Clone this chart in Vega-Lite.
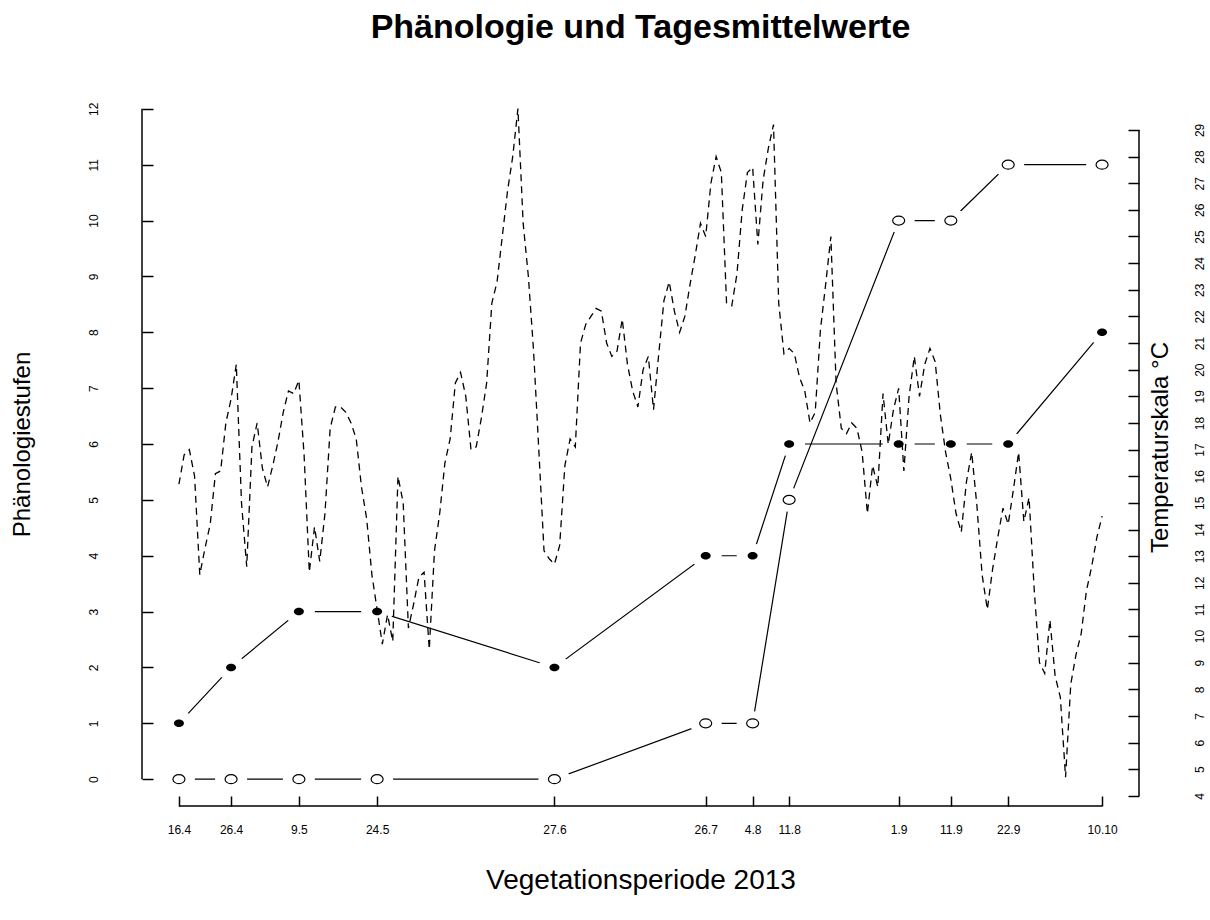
{
  "$schema": "https://vega.github.io/schema/vega-lite/v6.json",
  "autosize": {"type": "none"},
  "padding": {"left": 142, "top": 82, "right": 71, "bottom": 114},
  "width": 997,
  "height": 724,
  "background": "white",
  "config": {
    "view": {"stroke": null},
    "font": "Liberation Sans",
    "axis": {
      "grid": false, "domain": false,
      "labelFont": "Liberation Sans", "titleFont": "Liberation Sans",
      "labelColor": "black", "titleColor": "black", "tickColor": "black",
      "tickWidth": 1.5, "titleFontWeight": "normal"
    }
  },
  "title": {
    "text": "Phänologie und Tagesmittelwerte",
    "font": "Liberation Sans", "fontSize": 34, "fontWeight": "bold", "color": "black",
    "anchor": "middle", "frame": "group", "offset": 37
  },
  "datasets": {
    "pheno": [
      {"tag": "2013-04-16", "gefuellt": 1, "offen": 0},
      {"tag": "2013-04-26", "gefuellt": 2, "offen": 0},
      {"tag": "2013-05-09", "gefuellt": 3, "offen": 0},
      {"tag": "2013-05-24", "gefuellt": 3, "offen": 0},
      {"tag": "2013-06-27", "gefuellt": 2, "offen": 0},
      {"tag": "2013-07-26", "gefuellt": 4, "offen": 1},
      {"tag": "2013-08-04", "gefuellt": 4, "offen": 1},
      {"tag": "2013-08-11", "gefuellt": 6, "offen": 5},
      {"tag": "2013-09-01", "gefuellt": 6, "offen": 10},
      {"tag": "2013-09-11", "gefuellt": 6, "offen": 10},
      {"tag": "2013-09-22", "gefuellt": 6, "offen": 11},
      {"tag": "2013-10-10", "gefuellt": 8, "offen": 11}
    ],
    "temp": [
      {"tag": "2013-04-16", "t": 15.7}, {"tag": "2013-04-17", "t": 16.8}, {"tag": "2013-04-18", "t": 17.0}, {"tag": "2013-04-19", "t": 16.0}, {"tag": "2013-04-20", "t": 12.3},
      {"tag": "2013-04-21", "t": 13.3}, {"tag": "2013-04-22", "t": 14.2}, {"tag": "2013-04-23", "t": 16.1}, {"tag": "2013-04-24", "t": 16.2}, {"tag": "2013-04-25", "t": 18.0},
      {"tag": "2013-04-26", "t": 18.9}, {"tag": "2013-04-27", "t": 20.2}, {"tag": "2013-04-28", "t": 15.0}, {"tag": "2013-04-29", "t": 12.6}, {"tag": "2013-04-30", "t": 17.1},
      {"tag": "2013-05-01", "t": 18.0}, {"tag": "2013-05-02", "t": 16.3}, {"tag": "2013-05-03", "t": 15.6}, {"tag": "2013-05-04", "t": 16.4}, {"tag": "2013-05-05", "t": 17.3},
      {"tag": "2013-05-06", "t": 18.4}, {"tag": "2013-05-07", "t": 19.2}, {"tag": "2013-05-08", "t": 19.1}, {"tag": "2013-05-09", "t": 19.6}, {"tag": "2013-05-10", "t": 16.8},
      {"tag": "2013-05-11", "t": 12.4}, {"tag": "2013-05-12", "t": 14.1}, {"tag": "2013-05-13", "t": 12.8}, {"tag": "2013-05-14", "t": 14.6}, {"tag": "2013-05-15", "t": 17.8},
      {"tag": "2013-05-16", "t": 18.6}, {"tag": "2013-05-17", "t": 18.6}, {"tag": "2013-05-18", "t": 18.4}, {"tag": "2013-05-19", "t": 18.0}, {"tag": "2013-05-20", "t": 17.4},
      {"tag": "2013-05-21", "t": 15.6}, {"tag": "2013-05-22", "t": 14.4}, {"tag": "2013-05-23", "t": 12.3}, {"tag": "2013-05-24", "t": 11.0}, {"tag": "2013-05-25", "t": 9.7},
      {"tag": "2013-05-26", "t": 10.8}, {"tag": "2013-05-27", "t": 9.8}, {"tag": "2013-05-28", "t": 16.0}, {"tag": "2013-05-29", "t": 15.0}, {"tag": "2013-05-30", "t": 10.3},
      {"tag": "2013-05-31", "t": 11.2},
      {"tag": "2013-06-01", "t": 12.2}, {"tag": "2013-06-02", "t": 12.4}, {"tag": "2013-06-03", "t": 9.5}, {"tag": "2013-06-04", "t": 13.2}, {"tag": "2013-06-05", "t": 14.6},
      {"tag": "2013-06-06", "t": 16.5}, {"tag": "2013-06-07", "t": 17.4}, {"tag": "2013-06-08", "t": 19.5}, {"tag": "2013-06-09", "t": 19.9}, {"tag": "2013-06-10", "t": 19.0},
      {"tag": "2013-06-11", "t": 17.0}, {"tag": "2013-06-12", "t": 17.1}, {"tag": "2013-06-13", "t": 18.2}, {"tag": "2013-06-14", "t": 19.5}, {"tag": "2013-06-15", "t": 22.5},
      {"tag": "2013-06-16", "t": 23.3}, {"tag": "2013-06-17", "t": 25.0}, {"tag": "2013-06-18", "t": 26.7}, {"tag": "2013-06-19", "t": 28.0}, {"tag": "2013-06-20", "t": 29.8},
      {"tag": "2013-06-21", "t": 25.5}, {"tag": "2013-06-22", "t": 23.5}, {"tag": "2013-06-23", "t": 20.7}, {"tag": "2013-06-24", "t": 17.0}, {"tag": "2013-06-25", "t": 13.2},
      {"tag": "2013-06-26", "t": 12.9}, {"tag": "2013-06-27", "t": 12.7}, {"tag": "2013-06-28", "t": 13.4}, {"tag": "2013-06-29", "t": 16.4}, {"tag": "2013-06-30", "t": 17.4},
      {"tag": "2013-07-01", "t": 17.1}, {"tag": "2013-07-02", "t": 21.0}, {"tag": "2013-07-03", "t": 21.7}, {"tag": "2013-07-04", "t": 22.0}, {"tag": "2013-07-05", "t": 22.3},
      {"tag": "2013-07-06", "t": 22.2}, {"tag": "2013-07-07", "t": 21.0}, {"tag": "2013-07-08", "t": 20.5}, {"tag": "2013-07-09", "t": 20.7}, {"tag": "2013-07-10", "t": 21.9},
      {"tag": "2013-07-11", "t": 20.2}, {"tag": "2013-07-12", "t": 19.2}, {"tag": "2013-07-13", "t": 18.6}, {"tag": "2013-07-14", "t": 20.0}, {"tag": "2013-07-15", "t": 20.5},
      {"tag": "2013-07-16", "t": 18.5}, {"tag": "2013-07-17", "t": 20.6}, {"tag": "2013-07-18", "t": 22.6}, {"tag": "2013-07-19", "t": 23.3}, {"tag": "2013-07-20", "t": 22.2},
      {"tag": "2013-07-21", "t": 21.4}, {"tag": "2013-07-22", "t": 22.0}, {"tag": "2013-07-23", "t": 23.2}, {"tag": "2013-07-24", "t": 24.3}, {"tag": "2013-07-25", "t": 25.5},
      {"tag": "2013-07-26", "t": 25.0}, {"tag": "2013-07-27", "t": 27.0}, {"tag": "2013-07-28", "t": 28.0}, {"tag": "2013-07-29", "t": 27.4}, {"tag": "2013-07-30", "t": 22.5},
      {"tag": "2013-07-31", "t": 22.4},
      {"tag": "2013-08-01", "t": 23.6}, {"tag": "2013-08-02", "t": 26.0}, {"tag": "2013-08-03", "t": 27.4}, {"tag": "2013-08-04", "t": 27.6}, {"tag": "2013-08-05", "t": 24.7},
      {"tag": "2013-08-06", "t": 27.1}, {"tag": "2013-08-07", "t": 28.3}, {"tag": "2013-08-08", "t": 29.2}, {"tag": "2013-08-09", "t": 22.5}, {"tag": "2013-08-10", "t": 20.6},
      {"tag": "2013-08-11", "t": 20.8}, {"tag": "2013-08-12", "t": 20.6}, {"tag": "2013-08-13", "t": 19.7}, {"tag": "2013-08-14", "t": 19.2}, {"tag": "2013-08-15", "t": 18.0},
      {"tag": "2013-08-16", "t": 18.4}, {"tag": "2013-08-17", "t": 21.5}, {"tag": "2013-08-18", "t": 23.2}, {"tag": "2013-08-19", "t": 25.0}, {"tag": "2013-08-20", "t": 19.5},
      {"tag": "2013-08-21", "t": 17.8}, {"tag": "2013-08-22", "t": 17.6}, {"tag": "2013-08-23", "t": 18.0}, {"tag": "2013-08-24", "t": 17.8}, {"tag": "2013-08-25", "t": 16.9},
      {"tag": "2013-08-26", "t": 14.6}, {"tag": "2013-08-27", "t": 16.4}, {"tag": "2013-08-28", "t": 15.6}, {"tag": "2013-08-29", "t": 19.1}, {"tag": "2013-08-30", "t": 17.2},
      {"tag": "2013-08-31", "t": 18.5},
      {"tag": "2013-09-01", "t": 19.3}, {"tag": "2013-09-02", "t": 16.2}, {"tag": "2013-09-03", "t": 19.0}, {"tag": "2013-09-04", "t": 20.5}, {"tag": "2013-09-05", "t": 19.0},
      {"tag": "2013-09-06", "t": 20.2}, {"tag": "2013-09-07", "t": 20.8}, {"tag": "2013-09-08", "t": 20.3}, {"tag": "2013-09-09", "t": 18.3}, {"tag": "2013-09-10", "t": 16.9},
      {"tag": "2013-09-11", "t": 15.9}, {"tag": "2013-09-12", "t": 14.6}, {"tag": "2013-09-13", "t": 13.9}, {"tag": "2013-09-14", "t": 15.8}, {"tag": "2013-09-15", "t": 16.9},
      {"tag": "2013-09-16", "t": 14.9}, {"tag": "2013-09-17", "t": 12.3}, {"tag": "2013-09-18", "t": 11.0}, {"tag": "2013-09-19", "t": 12.5}, {"tag": "2013-09-20", "t": 13.7},
      {"tag": "2013-09-21", "t": 14.8}, {"tag": "2013-09-22", "t": 14.2}, {"tag": "2013-09-23", "t": 15.5}, {"tag": "2013-09-24", "t": 16.9}, {"tag": "2013-09-25", "t": 14.3},
      {"tag": "2013-09-26", "t": 15.2}, {"tag": "2013-09-27", "t": 11.7}, {"tag": "2013-09-28", "t": 9.0}, {"tag": "2013-09-29", "t": 8.6}, {"tag": "2013-09-30", "t": 10.6},
      {"tag": "2013-10-01", "t": 8.5}, {"tag": "2013-10-02", "t": 7.7}, {"tag": "2013-10-03", "t": 4.7}, {"tag": "2013-10-04", "t": 8.2}, {"tag": "2013-10-05", "t": 9.3},
      {"tag": "2013-10-06", "t": 10.1}, {"tag": "2013-10-07", "t": 11.7}, {"tag": "2013-10-08", "t": 12.6}, {"tag": "2013-10-09", "t": 13.7}, {"tag": "2013-10-10", "t": 14.5}
    ]
  },
  "layer": [
    {
      "data": {"name": "pheno"},
      "layer": [
        {
          "mark": {"type": "line", "color": "black", "strokeWidth": 1.2},
          "encoding": {
            "x": {
              "field": "tag", "type": "temporal",
              "scale": {"type": "utc", "nice": false, "domain": [{"year": 2013, "month": 4, "date": 8, "hours": 22, "minutes": 5, "utc": true}, {"year": 2013, "month": 10, "date": 17, "hours": 1, "minutes": 55, "utc": true}]},
              "axis": {
                "values": [
                  {"year": 2013, "month": 4, "date": 16, "utc": true}, {"year": 2013, "month": 4, "date": 26, "utc": true},
                  {"year": 2013, "month": 5, "date": 9, "utc": true}, {"year": 2013, "month": 5, "date": 24, "utc": true},
                  {"year": 2013, "month": 6, "date": 27, "utc": true}, {"year": 2013, "month": 7, "date": 26, "utc": true},
                  {"year": 2013, "month": 8, "date": 4, "utc": true}, {"year": 2013, "month": 8, "date": 11, "utc": true},
                  {"year": 2013, "month": 9, "date": 1, "utc": true}, {"year": 2013, "month": 9, "date": 11, "utc": true},
                  {"year": 2013, "month": 9, "date": 22, "utc": true}, {"year": 2013, "month": 10, "date": 10, "utc": true}
                ],
                "format": "%-d.%-m",
                "title": "Vegetationsperiode 2013",
                "titleFontSize": 28, "titleY": 74, "titleBaseline": "middle",
                "labelFontSize": 12, "labelPadding": 33, "labelBaseline": "middle", "labelAlign": "center",
                "labelFlush": false, "labelOverlap": false, "tickSize": -10
              }
            },
            "y": {
              "field": "gefuellt", "type": "quantitative",
              "scale": {"domain": [-0.48, 12.48], "nice": false, "zero": false},
              "axis": {
                "values": [0, 1, 2, 3, 4, 5, 6, 7, 8, 9, 10, 11, 12], "format": "d",
                "title": "Phänologiestufen", "titleFontSize": 24,
                "titleAngle": 270, "titleX": -120, "titleY": 362, "titleAlign": "center", "titleBaseline": "middle",
                "labelFontSize": 12, "labelAngle": 270, "labelAlign": "center", "labelBaseline": "middle",
                "labelPadding": 60, "tickSize": -11, "labelOverlap": false, "labelFlush": false
              }
            }
          }
        },
        {
          "data": {"values": [{}]},
          "mark": {"type": "rule", "color": "black", "strokeWidth": 1.5},
          "encoding": {
            "x": {"datum": {"year": 2013, "month": 4, "date": 8, "hours": 22, "minutes": 5, "utc": true}, "type": "temporal"},
            "y": {"datum": 0, "type": "quantitative"},
            "y2": {"datum": 12}
          }
        },
        {
          "data": {"values": [{}]},
          "mark": {"type": "rule", "color": "black", "strokeWidth": 1.5},
          "encoding": {
            "x": {"datum": {"year": 2013, "month": 4, "date": 16, "utc": true}, "type": "temporal"},
            "x2": {"datum": {"year": 2013, "month": 10, "date": 10, "utc": true}},
            "y": {"datum": -0.48, "type": "quantitative"}
          }
        },
        {
          "mark": {"type": "line", "color": "black", "strokeWidth": 1.2},
          "encoding": {
            "x": {"field": "tag", "type": "temporal"},
            "y": {"field": "offen", "type": "quantitative"}
          }
        },
        {
          "mark": {"type": "point", "shape": "M -1 0 A 1 0.75 0 1 0 1 0 A 1 0.75 0 1 0 -1 0 Z", "filled": true, "color": "white", "opacity": 1, "size": 1024},
          "encoding": {
            "x": {"field": "tag", "type": "temporal"},
            "y": {"field": "gefuellt", "type": "quantitative"}
          }
        },
        {
          "mark": {"type": "point", "shape": "M -1 0 A 1 0.75 0 1 0 1 0 A 1 0.75 0 1 0 -1 0 Z", "filled": true, "color": "white", "opacity": 1, "size": 1024},
          "encoding": {
            "x": {"field": "tag", "type": "temporal"},
            "y": {"field": "offen", "type": "quantitative"}
          }
        },
        {
          "mark": {"type": "point", "shape": "M -1 0 A 1 0.75 0 1 0 1 0 A 1 0.75 0 1 0 -1 0 Z", "filled": true, "color": "black", "opacity": 1, "size": 100},
          "encoding": {
            "x": {"field": "tag", "type": "temporal"},
            "y": {"field": "gefuellt", "type": "quantitative"}
          }
        },
        {
          "mark": {"type": "point", "shape": "M -1 0 A 1 0.75 0 1 0 1 0 A 1 0.75 0 1 0 -1 0 Z", "filled": false, "color": "black", "strokeWidth": 1.2, "opacity": 1, "size": 144},
          "encoding": {
            "x": {"field": "tag", "type": "temporal"},
            "y": {"field": "offen", "type": "quantitative"}
          }
        }
      ]
    },
    {
      "data": {"name": "temp"},
      "layer": [
        {
          "mark": {"type": "line", "color": "black", "strokeWidth": 1.3, "strokeDash": [7, 5]},
          "encoding": {
            "x": {"field": "tag", "type": "temporal"},
            "y": {
              "field": "t", "type": "quantitative",
              "scale": {"domain": [3.62, 30.8], "nice": false, "zero": false},
              "axis": {
                "orient": "right",
                "values": [4, 5, 6, 7, 8, 9, 10, 11, 12, 13, 14, 15, 16, 17, 18, 19, 20, 21, 22, 23, 24, 25, 26, 27, 28, 29], "format": "d",
                "title": "Temperaturskala °C", "titleFontSize": 24,
                "titleAngle": 270, "titleX": 21, "titleY": 365, "titleAlign": "center", "titleBaseline": "middle",
                "labelFontSize": 12, "labelAngle": 270, "labelAlign": "center", "labelBaseline": "middle",
                "labelPadding": 71, "tickSize": -11, "labelOverlap": false, "labelFlush": false
              }
            }
          }
        },
        {
          "data": {"values": [{}]},
          "mark": {"type": "rule", "color": "black", "strokeWidth": 1.5},
          "encoding": {
            "x": {"datum": {"year": 2013, "month": 10, "date": 17, "hours": 1, "minutes": 55, "utc": true}, "type": "temporal"},
            "y": {
              "datum": 4, "type": "quantitative",
              "axis": {
                "orient": "right",
                "values": [4, 5, 6, 7, 8, 9, 10, 11, 12, 13, 14, 15, 16, 17, 18, 19, 20, 21, 22, 23, 24, 25, 26, 27, 28, 29], "format": "d",
                "title": "Temperaturskala °C", "titleFontSize": 24,
                "titleAngle": 270, "titleX": 21, "titleY": 365, "titleAlign": "center", "titleBaseline": "middle",
                "labelFontSize": 12, "labelAngle": 270, "labelAlign": "center", "labelBaseline": "middle",
                "labelPadding": 71, "tickSize": -11, "labelOverlap": false, "labelFlush": false
              }
            },
            "y2": {"datum": 29}
          }
        }
      ]
    }
  ],
  "resolve": {"scale": {"y": "independent"}}
}
